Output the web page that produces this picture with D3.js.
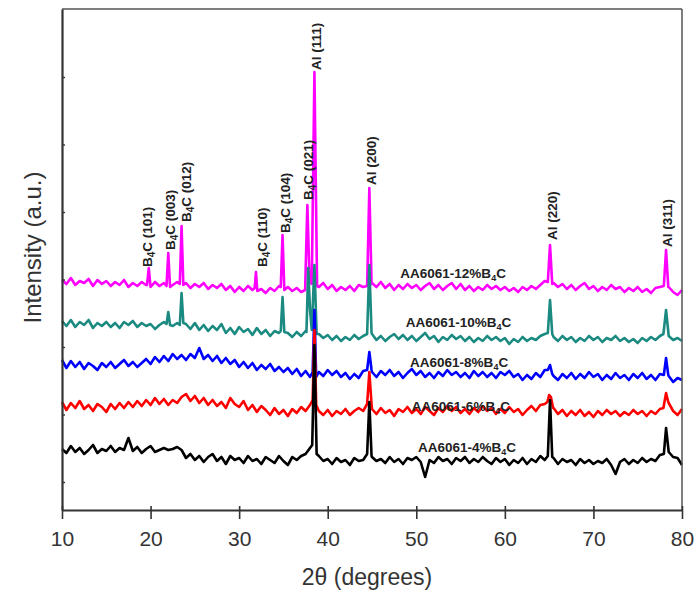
<!DOCTYPE html>
<html>
<head>
<meta charset="utf-8">
<script src="https://cdn.jsdelivr.net/npm/d3@7"></script>
<style>
  body { margin: 0; background: #fff; }
  svg { display: block; font-family: Arial, "Liberation Sans", sans-serif; }
</style>
</head>
<body>
<svg width="697" height="591"></svg>
<script>
// 2theta sampling grid, 0.5 deg steps from 10 to 80
const twoTheta = d3.range(0, 141).map((i) => 10 + i * 0.5);

// background readings (a.u.), null where a peak cluster replaces the point
const b4 = [
  610,570,640,580,620,560,600,650,570,610,
  590,640,580,620,600,720,590,630,570,610,
  640,580,600,620,600,610,630,600,520,560,
  500,540,480,530,560,490,530,460,540,500,
  520,470,540,490,510,460,530,500,470,540,
  490,450,530,500,540,560,620,null,540,490,
  510,460,520,480,500,450,520,490,500,null,
  530,490,510,470,530,480,510,460,520,500,
  530,480,330,500,470,530,490,510,460,520,
  490,530,470,510,480,530,490,460,520,480,
  510,450,500,470,520,460,510,480,540,500,
  null,520,460,510,480,500,450,510,470,500,
  460,490,470,510,450,360,480,510,460,500,
  470,520,480,510,490,550,null,580,530,520,
  450
];
const b6 = [
  1080,1000,1070,1020,1090,1010,1050,990,1060,1030,
  980,1060,1010,1070,1020,1080,1030,1090,1040,1100,
  1050,1120,1060,1110,1050,1100,1070,1130,1160,1090,
  1140,1070,1120,1050,1100,1040,1080,1020,1120,1060,
  1030,1090,1000,1050,980,1040,1000,950,1020,960,
  1000,940,1010,970,1030,990,1050,null,990,950,
  1000,940,990,960,1010,950,990,1020,990,null,
  1010,960,1020,970,1000,940,1010,980,1030,970,
  1010,960,1030,990,950,1020,980,1040,990,1030,
  970,1010,960,1020,980,1040,990,1020,960,1010,
  970,1030,980,1010,950,1000,1040,990,1050,1060,
  null,1020,960,1000,940,990,950,1000,940,980,
  930,990,950,1000,960,990,940,980,950,1000,
  960,990,940,990,960,1010,null,1070,990,950,
  1010
];
const b8 = [
  1500,1420,1490,1430,1480,1410,1470,1440,1400,1470,
  1430,1480,1420,1460,1500,1440,1480,1430,1470,1510,
  1460,1530,1480,1540,1490,1560,1510,1550,1500,1560,
  1520,1620,1510,1550,1490,1540,1470,1520,1460,1500,
  1430,1480,1420,1470,1400,1450,1410,1460,1390,1430,
  1380,1420,1360,1410,1340,1390,1330,null,1380,1340,
  1400,1350,1390,1330,1370,1310,1360,1320,1390,null,
  1380,1330,1390,1350,1400,1340,1380,1320,1370,1410,
  1350,1390,1330,1370,1320,1380,1340,1400,1350,1380,
  1330,1370,1320,1390,1340,1380,1330,1370,1320,1380,
  1350,1390,1330,1360,1300,1350,1310,1370,1330,1400,
  null,1340,1300,1360,1320,1370,1310,1360,1320,1380,
  1330,1360,1300,1350,1310,1370,1320,1350,1300,1360,
  1320,1370,1310,1350,1300,1360,null,1340,1280,1320,
  1300
];
const b10 = [
  1890,1840,1900,1830,1880,1850,1900,1820,1870,1840,
  1880,1830,1870,1820,1880,1850,1890,1830,1870,1840,
  1860,1810,1850,1880,null,1840,1870,null,1860,1810,
  1870,1800,1850,1790,1840,1800,1860,1770,1820,1760,
  1830,1780,1810,1750,1820,1760,1800,1740,1790,1770,
  null,1770,1730,1780,1740,1790,null,null,1760,1720,
  1750,1700,1740,1690,1730,1700,1750,1710,1740,null,
  1760,1700,1740,1690,1730,1760,1710,1750,1700,1740,
  1690,1730,1770,1710,1740,1680,1730,1700,1750,1710,
  1740,1690,1730,1680,1720,1690,1740,1700,1730,1690,
  1720,1660,1710,1680,1730,1690,1720,1700,1740,1760,
  null,1730,1690,1740,1700,1730,1680,1720,1690,1740,
  1700,1730,1680,1720,1700,1740,1690,1720,1680,1710,
  1670,1720,1690,1730,1700,1740,null,null,1700,1720,
  1690
];
const b12 = [
  2300,2260,2320,2250,2290,2270,2310,2240,2300,2260,
  2290,2240,2280,2250,2300,2230,2270,2240,2280,2250,
  null,2280,2240,2270,null,2250,2280,null,2270,2220,
  2260,2230,2270,2210,2250,2220,2260,2200,2240,2180,
  2230,2190,2240,2200,null,2210,2170,2220,2190,2240,
  null,2230,2190,2220,2180,null,null,null,2230,2270,
  2210,2250,2190,2230,2200,2240,2190,2250,2230,null,
  2270,2230,2280,2220,2260,2200,2250,2210,2260,2220,
  2250,2200,2240,2270,2210,2250,2200,2240,2270,2210,
  2260,2200,2240,2190,2230,2200,2250,2210,2240,2200,
  2230,2190,2220,2180,2230,2200,2240,2210,2250,2290,
  null,2270,2230,2260,2210,2250,2200,2240,2270,2210,
  2240,2190,2230,2200,2250,2210,2230,2180,2220,2190,
  2230,2180,2210,2170,2220,2230,null,2230,2180,2150,
  2200
];

// reflection peaks, each a cluster of [2theta, intensity] points
const p4 = [
  [[38.25,650],[38.5,1650],[38.75,560]],
  [[44.45,560],[44.7,1080],[44.95,540]],
  [[64.85,540],[65.1,1100],[65.35,530]],
  [[77.95,560],[78.2,820],[78.45,620]]
];
const p6 = [
  [[38.3,1100],[38.5,1800],[38.7,1050]],
  [[44.45,1060],[44.7,1380],[44.95,1060]],
  [[64.8,1080],[65.0,1150],[65.2,1130],[65.45,1020]],
  [[77.9,1020],[78.2,1170],[78.45,1080]]
];
const p8 = [
  [[38.3,1380],[38.5,2000],[38.7,1330]],
  [[44.45,1400],[44.7,1580],[44.95,1400]],
  [[64.85,1400],[65.1,1450],[65.35,1360]],
  [[77.95,1350],[78.2,1520],[78.45,1350]]
];
const p10 = [
  [[21.8,1860],[22.0,1980],[22.2,1850]],
  [[23.3,1850],[23.5,2170],[23.7,1870]],
  [[34.7,1790],[34.9,2130],[35.1,1780]],
  [[37.6,1780],[37.8,2420],[38.0,2000],[38.2,1800],[38.5,2450],[38.75,1760]],
  [[44.45,1760],[44.7,2450],[44.95,1770]],
  [[64.85,1770],[65.1,2100],[65.35,1760]],
  [[77.9,1760],[78.2,2000],[78.5,1740]]
];
const p12 = [
  [[19.6,2250],[19.8,2420],[20.0,2230]],
  [[21.8,2240],[22.0,2570],[22.2,2230]],
  [[23.3,2260],[23.5,2840],[23.7,2250]],
  [[31.75,2220],[31.9,2380],[32.05,2190]],
  [[34.7,2230],[34.9,2750],[35.1,2200]],
  [[37.45,2200],[37.7,3050],[37.95,2300],[38.2,2260],[38.5,4380],[38.8,2240]],
  [[44.45,2240],[44.7,3220],[44.95,2260]],
  [[64.85,2280],[65.1,2650],[65.35,2260]],
  [[77.95,2240],[78.2,2600],[78.45,2230]]
];

const sampleNames = ["12", "10", "8", "6", "4"];
const sampleColors = ["#ff00ff", "#1b8a80", "#0000ff", "#ff0000", "#000000"];
const sampleLabelAt = [[48.2, 2320], [48.8, 1830], [49.3, 1430], [49.5, 990], [50.2, 580]];

// peak annotations: phase, hkl, 2theta of label, intensity at label foot
const peakLabels = [
  ["B4C", "(101)", 19.7, 2430],
  ["B4C", "(003)", 22.2, 2600],
  ["B4C", "(012)", 24.1, 2880],
  ["B4C", "(110)", 32.6, 2430],
  ["B4C", "(104)", 35.2, 2770],
  ["B4C", "(021)", 37.8, 3100],
  ["Al", "(111)", 38.7, 4400],
  ["Al", "(200)", 44.9, 3250],
  ["Al", "(220)", 65.4, 2700],
  ["Al", "(311)", 78.4, 2630]
];

const xTicks = [10, 20, 30, 40, 50, 60, 70, 80];
const yTicks = [280, 955, 1630, 2305, 2980, 3655, 4330];

function mergePeaks(base, peaks) {
  let pts = twoTheta.map((t, i) => [t, base[i]]).filter((d) => d[1] !== null);
  peaks.forEach((p) => {
    let lo = p[0][0], hi = p[p.length - 1][0];
    pts = pts.filter((d) => d[0] < lo || d[0] > hi).concat(p);
  });
  return pts.sort((a, b) => a[0] - b[0]);
}

const series = [
  mergePeaks(b12, p12),
  mergePeaks(b10, p10),
  mergePeaks(b8, p8),
  mergePeaks(b6, p6),
  mergePeaks(b4, p4)
];

const svg = d3.select("svg");
const mLeft = 62, mRight = 682, mTop = 9, mBottom = 510;

let x = d3.scaleLinear().domain([10, 80]).range([mLeft, mRight]);
let y = d3.scaleLinear().domain([0, 5010]).range([mBottom, mTop]);

let line = d3.line().x((d) => x(d[0])).y((d) => y(d[1]));

svg.append("g")
  .selectAll("path")
  .data(series)
  .enter()
  .append("path")
  .attr("d", line)
  .attr("fill", "none")
  .attr("stroke", (d, i) => sampleColors[i])
  .attr("stroke-width", 2.6)
  .attr("stroke-linejoin", "round");

// frame
svg.append("line").attr("x1", mLeft).attr("x2", mRight).attr("y1", mTop).attr("y2", mTop)
  .attr("stroke", "#555").attr("stroke-width", 1.5);
svg.append("line").attr("x1", mRight).attr("x2", mRight).attr("y1", mTop).attr("y2", mBottom)
  .attr("stroke", "#555").attr("stroke-width", 1.5);

let xAxis = svg.append("g")
  .attr("transform", `translate(0,${mBottom})`)
  .call(d3.axisBottom(x).tickValues(xTicks).tickSize(9).tickSizeOuter(0).tickPadding(12));
xAxis.select(".domain").attr("stroke", "#333").attr("stroke-width", 2.2);
xAxis.selectAll(".tick line").attr("stroke", "#333").attr("stroke-width", 1.6).attr("y1", -4);
xAxis.selectAll(".tick text").attr("font-size", 21).attr("fill", "#333")
  .attr("font-family", "Arial, 'Liberation Sans', sans-serif");

let yAxis = svg.append("g")
  .attr("transform", `translate(${mLeft},0)`)
  .call(d3.axisLeft(y).tickValues(yTicks).tickSize(-3).tickSizeOuter(0).tickFormat(""));
yAxis.select(".domain").attr("stroke", "#333").attr("stroke-width", 2.2);
yAxis.selectAll(".tick line").attr("stroke", "#333").attr("stroke-width", 1.4);

svg.append("text")
  .attr("x", (mLeft + mRight) / 2 - 5)
  .attr("y", 585)
  .attr("text-anchor", "middle")
  .attr("font-size", 23)
  .attr("fill", "#333")
  .text("2θ (degrees)");

svg.append("text")
  .attr("transform", `translate(41,${(mTop + mBottom) / 2 - 12}) rotate(-90)`)
  .attr("text-anchor", "middle")
  .attr("font-size", 24)
  .attr("fill", "#333")
  .text("Intensity (a.u.)");

// sample names
let names = svg.append("g").attr("font-size", 13.5).attr("font-weight", "bold").attr("fill", "#222");
sampleNames.forEach((n, i) => {
  let t = names.append("text")
    .attr("x", x(sampleLabelAt[i][0]))
    .attr("y", y(sampleLabelAt[i][1]));
  t.append("tspan").text(`AA6061-${n}%B`);
  t.append("tspan").attr("font-size", 9).attr("dy", 3).text("4");
  t.append("tspan").attr("dy", -3).text("C");
});

// peak annotations
let notes = svg.append("g").attr("font-size", 13.5).attr("font-weight", "bold").attr("fill", "#222");
peakLabels.forEach((p) => {
  let t = notes.append("text")
    .attr("transform", `translate(${x(p[2]) + 4.5},${y(p[3])}) rotate(-90)`);
  if (p[0] === "B4C") {
    t.append("tspan").text("B");
    t.append("tspan").attr("font-size", 10).attr("dy", 3).text("4");
    t.append("tspan").attr("dy", -3).text("C " + p[1]);
  } else {
    t.append("tspan").text(p[0] + " " + p[1]);
  }
});
</script>
</body>
</html>
